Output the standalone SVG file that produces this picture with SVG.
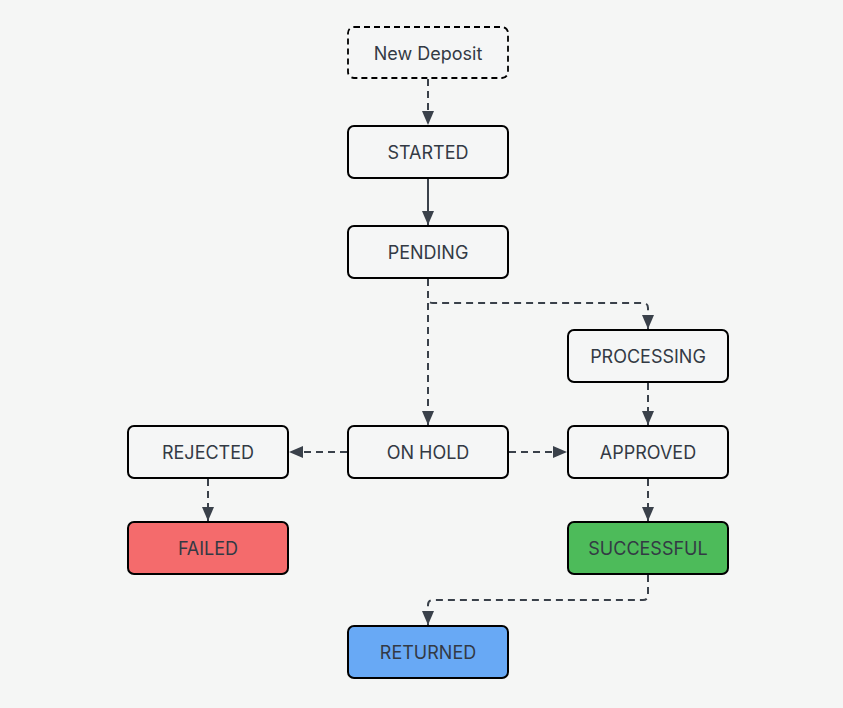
<svg xmlns="http://www.w3.org/2000/svg" width="843" height="708" viewBox="0 0 843 708">
<style>
.n rect{fill:#f5f6f6;stroke:#000;stroke-width:2}
.n text{font-family:Inter,"Noto Sans",sans-serif;font-size:18px;fill:#333a44;text-anchor:middle;dominant-baseline:central}
.e path{fill:none;stroke:#3a414a;stroke-width:2;stroke-dasharray:7 5}
.e path.s{stroke-dasharray:none}
</style>
<defs>
<marker id="a" viewBox="0 0 14 12" refX="14" refY="6" markerWidth="14" markerHeight="12" markerUnits="userSpaceOnUse" orient="auto">
<path d="M0 0 L14 6 L0 12 Z" fill="#3a414a"/>
</marker>
</defs>
<rect width="843" height="708" fill="#f5f6f5"/>
<g class="e">
<path d="M428 79 L428 125" marker-end="url(#a)"/>
<path class="s" d="M428 179 L428 225" marker-end="url(#a)"/>
<path d="M428 279 L428 425" marker-end="url(#a)"/>
<path d="M428 279 L428 298 Q428 303 433 303 L643 303 Q648 303 648 308 L648 329" marker-end="url(#a)"/>
<path d="M648 383 L648 425" marker-end="url(#a)"/>
<path d="M347 452 L289 452" marker-end="url(#a)"/>
<path d="M509 452 L567 452" marker-end="url(#a)"/>
<path d="M208 479 L208 521" marker-end="url(#a)"/>
<path d="M648 479 L648 521" marker-end="url(#a)"/>
<path d="M648 575 L648 595 Q648 600 643 600 L433 600 Q428 600 428 605 L428 625" marker-end="url(#a)"/>
</g>
<g id="new-deposit" class="n"><rect x="348" y="27" width="160" height="51" rx="6" stroke-dasharray="6 4" style="stroke-width:1.8"/><text x="428" y="53">New Deposit</text></g>
<g id="started" class="n"><rect x="348" y="126" width="160" height="52" rx="6"/><text x="428" y="152">STARTED</text></g>
<g id="pending" class="n"><rect x="348" y="226" width="160" height="52" rx="6"/><text x="428" y="252">PENDING</text></g>
<g id="processing" class="n"><rect x="568" y="330" width="160" height="52" rx="6"/><text x="648" y="356">PROCESSING</text></g>
<g id="rejected" class="n"><rect x="128" y="426" width="160" height="52" rx="6"/><text x="208" y="452">REJECTED</text></g>
<g id="on-hold" class="n"><rect x="348" y="426" width="160" height="52" rx="6"/><text x="428" y="452">ON HOLD</text></g>
<g id="approved" class="n"><rect x="568" y="426" width="160" height="52" rx="6"/><text x="648" y="452">APPROVED</text></g>
<g id="failed" class="n"><rect x="128" y="522" width="160" height="52" rx="6" style="fill:#f46b6c"/><text x="208" y="548">FAILED</text></g>
<g id="successful" class="n"><rect x="568" y="522" width="160" height="52" rx="6" style="fill:#4dbb5a"/><text x="648" y="548">SUCCESSFUL</text></g>
<g id="returned" class="n"><rect x="348" y="626" width="160" height="52" rx="6" style="fill:#68a9f5"/><text x="428" y="652">RETURNED</text></g>
</svg>
